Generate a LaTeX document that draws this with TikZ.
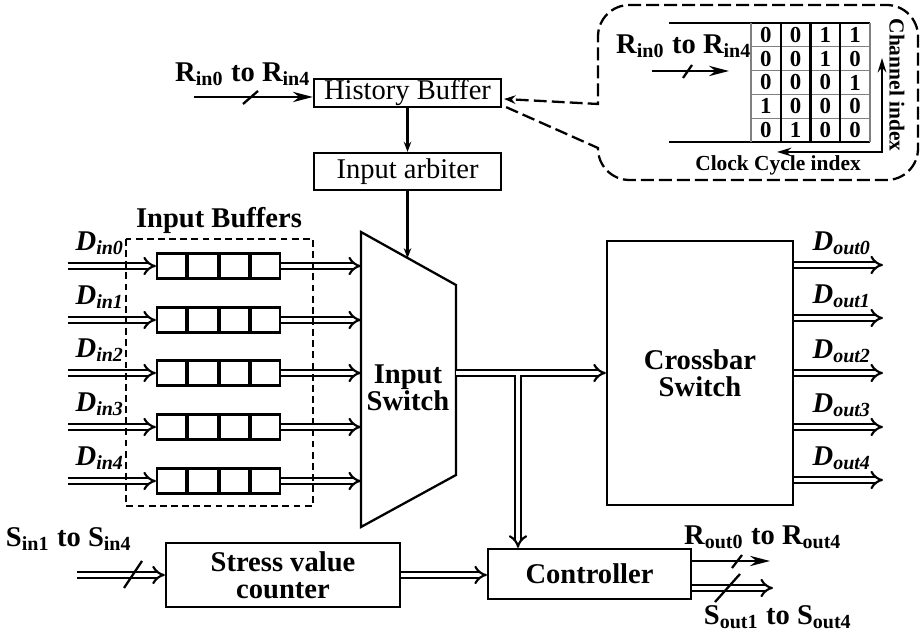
\documentclass[tikz,border=0pt]{standalone}
\usepackage{fontspec}
\setmainfont{Liberation Serif}
\usetikzlibrary{arrows.meta,positioning,calc}

\begin{document}
\begin{tikzpicture}[x=0.35pt, y=-0.35pt,
  box/.style={rectangle, draw, thick, inner sep=0pt, align=center,
    font=\fontsize{10}{9.5}\selectfont\bfseries},
  plainbox/.style={box, font=\fontsize{10}{11}\selectfont},
  buf/.style={rectangle, draw, thick, minimum width=43pt, minimum height=8.75pt, inner sep=0pt},
  arrow/.style={-{Stealth[length=7pt,width=3.6pt]}, thick},
  sarrow/.style={-{Stealth[length=3.5pt,width=2.6pt]}, thick},
  dbl/.style={double, double distance=1.4pt, line width=0.75pt, -{Implies[length=3.6pt,width=4.6pt]}},
  lbl/.style={inner sep=0pt, font=\fontsize{10}{9.5}\selectfont\bfseries},
  dlbl/.style={inner sep=0pt, font=\fontsize{10}{11}\selectfont\bfseries\itshape},
  small/.style={inner sep=0pt, font=\fontsize{7.5}{9}\selectfont\bfseries},
  digit/.style={inner sep=0pt, font=\fontsize{8}{9}\selectfont\bfseries},
  callout/.style={thick, dashed, dash pattern=on 4.5pt off 1.8pt}
]
  \useasboundingbox (0,0) rectangle (921,634);

  % History buffer and arbiter
  \node[plainbox, minimum width=65.45pt, minimum height=9.8pt] (hb) at (407.5,93) {History Buffer};
  \node[plainbox, minimum width=65.45pt, minimum height=12.95pt] (arb) at (407.5,171.5) {Input arbiter};
  \coordinate (rin) at (194,97);
  \draw[arrow] (rin) -- (rin -| hb.west);
  \draw[thick] (243,104) -- (258,91);
  \node[lbl] (rinlbl) at (243,74) {R\textsubscript{in0} to R\textsubscript{in4}};
  \draw[sarrow] (hb) -- (arb);

  % Input switch
  \coordinate (swtl) at (361,232);
  \coordinate (swtr) at (456,285);
  \coordinate (swbr) at (456,475);
  \coordinate (swbl) at (361,527);
  \draw[thick] (swtl) -- (swtr) -- (swbr) -- (swbl) -- cycle;
  \node[lbl, align=center] (sw) at (408,388) {Input\\Switch};
  \coordinate (swin) at ($(swtl)!0.495!(swtr)$);
  \draw[sarrow] (arb.south) -- (arb.south |- swin);

  % Input buffers
  \node[lbl] (iblbl) at (219,220) {Input Buffers};
  \foreach \i/\y in {0/266,1/320,2/373,3/427,4/481}{
    \node[buf] (buf\i) at (218.5,\y) {};
    \foreach \f in {0.25,0.5,0.75}
      \draw[line width=1.4pt] ($(buf\i.north west)!\f!(buf\i.north east)$) -- ($(buf\i.south west)!\f!(buf\i.south east)$);
    \coordinate (in\i) at (68,\y);
    \draw[dbl] (in\i) -- (buf\i.west);
    \draw[dbl] (buf\i.east) -- (buf\i.east -| swtl);
    \node[dlbl] (din\i) at (100,{\y-23}) {D\textsubscript{in\i}};
  }
  \draw[thick, dashed, dash pattern=on 2.4pt off 1.5pt] (126,239) rectangle (313,506);

  % Crossbar switch
  \node[box, minimum width=65.1pt, minimum height=92.4pt] (xbar) at (700,373) {Crossbar\\Switch};
  \foreach \i/\y in {0/265,1/318,2/373,3/427,4/480}{
    \coordinate (out\i) at (883,\y);
    \draw[dbl] (out\i -| xbar.east) -- (out\i);
    \node[dlbl] (dout\i) at (842,{\y-22}) {D\textsubscript{out\i}};
  }

  % Stress value counter and controller
  \node[box, minimum width=81.9pt, minimum height=22.4pt] (svc) at (283,575) {Stress value\\counter};
  \node[box, minimum width=71pt, minimum height=17.5pt] (ctrl) at (589.5,574) {Controller};
  \coordinate (sin) at (77,575);
  \draw[dbl] (sin) -- (svc.west);
  \draw[thick] (124,588) -- (142,561);
  \node[lbl] (sinlbl) at (69,539) {S\textsubscript{in1} to S\textsubscript{in4}};
  \draw[dbl] (svc.east) -- (svc.east -| ctrl.west);

  % Switch to crossbar, branch to controller
  \coordinate (swout) at (456,373);
  \coordinate (br) at (518,373);
  \draw[dbl] (swout) -- (swout -| xbar.west);
  \draw[dbl] ([yshift=-0.75pt]br) -- (br |- ctrl.north);

  % Controller outputs
  \coordinate (rout) at (770,561);
  \coordinate (sout) at (773,588);
  \draw[arrow] (rout -| ctrl.east) -- (rout);
  \draw[thick] (732,568) -- (742,555);
  \draw[dbl] (sout -| ctrl.east) -- (sout);
  \draw[thick] (715,602) -- (740,574);
  \node[lbl] (routlbl) at (763,537) {R\textsubscript{out0} to R\textsubscript{out4}};
  \node[lbl] (soutlbl) at (778,617) {S\textsubscript{out1} to S\textsubscript{out4}};

  % Callout with history matrix
  \draw[callout, -{Stealth[length=4pt,width=3pt]}] ($(hb.south east)+(4,-1)$) -- (598,148)
    {[rounded corners=11pt] -- (598,180) -- (918,180) -- (918,5) -- (598,5)} -- (598,104) -- ($(hb.east)+(2,6)$);
  \node[lbl] (crlbl) at (684,46) {R\textsubscript{in0} to R\textsubscript{in4}};
  \coordinate (cra) at (652,71);
  \coordinate (crb) at (729,71);
  \draw[arrow] (cra) -- (crb);
  \draw[thick] (683,78) -- (692,65);
  \draw[thick] (669,23) -- (870,23);
  \draw[thick] (669,142) -- (870,142);
  \foreach \k in {1,...,4}
    \draw[gray] (751,{23+\k*23.8}) -- (870,{23+\k*23.8});
  \draw[gray] (751,23) -- (751,142);
  \draw[gray] (870,23) -- (870,142);
  \foreach \x in {780.75,810.5,840.25}
    \draw[thick] (\x,23) -- (\x,142);
  \foreach \row [count=\r] in {{0,0,1,1},{0,0,1,0},{0,0,0,1},{1,0,0,0},{0,1,0,0}}
    \foreach \v [count=\c] in \row
      \node[digit] (m\r\c) at ({751+(\c-0.5)*29.75},{23+(\r-0.5)*23.8}) {\v};
  \coordinate (cyc) at (777,152);
  \coordinate (chn) at (882,58);
  \draw[thick, {Stealth[length=5pt,width=3pt]}-{Stealth[length=5pt,width=3pt]}] (cyc) -| (chn);
  \node[small, rotate=-90] (chlbl) at (897,85) {Channel index};
  \node[small] (cclbl) at (778,165) {Clock Cycle index};
\end{tikzpicture}
\end{document}
